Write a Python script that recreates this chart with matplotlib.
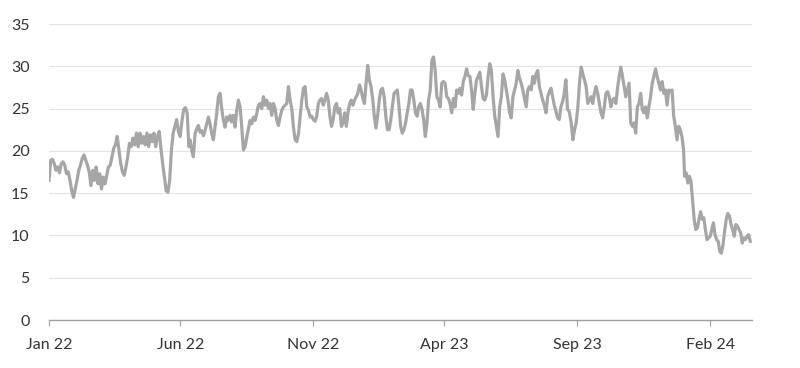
import numpy as np
import pandas as pd
import matplotlib.pyplot as plt
import matplotlib.dates as mdates

plt.rcParams['font.family'] = ['Lato', 'DejaVu Sans']

start = pd.Timestamp('2022-01-01')

# values, segment by segment (day offsets from 1 Jan 2022)
seg1_days = (0, 161)
seg1 = [16.5, 18.9, 19.0, 18.5, 17.7, 18.1, 17.4, 18.5, 18.7, 18.3, 17.3, 17.5, 16.5, 15.3, 14.5,
        15.5, 16.5, 17.7, 18.3, 19.1, 19.5, 18.9, 18.3, 17.5, 15.9, 17.7, 16.5, 18.1, 16.1, 17.3,
        15.5, 16.9, 16.1, 17.1, 18.1, 18.3, 19.3, 20.3, 20.7, 21.7, 20.1, 18.5, 17.5, 17.1, 18.1,
        19.3, 20.9, 20.5, 21.5, 20.7, 22.1, 20.5, 22.1, 20.9, 21.7, 20.7, 22.1, 20.5, 21.9, 21.1,
        22.1, 20.5, 21.7, 22.3, 20.3, 18.5, 16.9, 15.3, 15.1, 16.5, 20.1, 22.1, 22.9, 23.7, 22.3,
        21.7, 23.5, 24.9, 25.1, 24.5, 20.5]
seg2_days = (162.3, 300.5)
seg2 = [21.3, 20.1, 19.3, 22.0, 22.6, 23.0, 22.2, 22.4, 21.8, 22.4, 23.2, 24.0, 23.2, 22.0, 21.3,
        22.8, 24.4, 26.4, 26.8, 25.0, 23.6, 22.8, 24.0, 23.6, 24.2, 23.4, 24.2, 22.8, 24.8, 26.0,
        25.2, 22.8, 20.1, 20.5, 21.6, 22.6, 23.6, 23.2, 24.0, 23.6, 24.4, 25.4, 25.6, 25.0, 26.4,
        25.4, 26.0, 25.0, 25.6, 24.2, 25.6, 25.0, 23.6, 23.0, 24.0, 24.8, 25.2, 25.4, 25.6, 27.6,
        26.0, 25.0, 22.8, 21.3, 21.1, 22.0, 24.0, 26.0, 27.4, 27.6, 25.2, 24.8, 24.0]
seg3_days = (302.4, 450.1)
seg3 = [24.1, 23.7, 23.5, 24.1, 25.6, 26.0, 26.2, 25.4, 26.0, 26.8, 26.0, 24.1, 22.9, 23.7, 25.2,
        25.6, 24.5, 25.0, 22.9, 23.3, 24.5, 22.9, 24.5, 25.6, 26.0, 25.4, 26.0, 26.4, 26.8, 27.8,
        27.2, 26.2, 25.6, 28.0, 30.1, 28.4, 27.6, 26.2, 24.1, 22.7, 24.1, 26.0, 27.2, 27.4, 26.4,
        24.1, 22.5, 22.5, 23.7, 25.2, 26.8, 27.0, 27.2, 25.2, 22.9, 22.1, 22.5, 23.3, 24.5, 25.6,
        27.2, 27.2, 26.0, 24.5, 24.1, 25.2, 25.6, 24.9, 23.7, 21.7, 23.3, 26.0, 27.2, 30.7, 31.1,
        29.5, 26.4, 26.0, 25.2]
seg4_days = (452.0, 598.6)
seg4 = [28.0, 28.2, 28.0, 26.4, 26.2, 25.6, 24.5, 26.2, 25.2, 27.2, 26.8, 27.4, 26.6, 28.2, 28.8,
        29.7, 28.9, 28.8, 27.2, 24.9, 26.8, 28.4, 28.8, 29.3, 27.6, 26.2, 26.0, 26.6, 28.8, 30.3,
        29.5, 26.4, 24.1, 22.9, 21.7, 25.2, 26.4, 29.1, 28.4, 27.2, 26.0, 24.5, 23.9, 26.4, 27.2,
        28.0, 29.5, 28.6, 28.0, 27.2, 26.2, 25.2, 27.2, 27.6, 27.2, 28.8, 28.0, 29.1, 29.5, 27.6,
        26.8, 26.0, 25.4, 24.5, 26.4, 27.0, 27.4, 26.4, 25.4, 24.7, 23.9, 23.7, 25.2, 25.8, 26.8,
        28.4, 24.9, 24.7]
seg5_days = (601.0, 730.3)
seg5 = [23.3, 21.3, 22.5, 23.3, 25.2, 28.0, 29.9, 29.1, 28.4, 27.6, 25.6, 26.0, 26.4, 25.6, 26.8,
        27.6, 26.8, 25.6, 24.5, 23.9, 25.2, 26.8, 27.0, 26.4, 25.2, 26.0, 26.2, 25.6, 27.4, 28.8,
        29.9, 28.8, 27.6, 26.4, 27.2, 28.0, 23.3, 22.9, 23.3, 22.1, 25.2, 25.6, 26.8, 24.9, 24.5,
        25.2, 23.9, 25.2, 26.4, 28.0, 28.8, 29.7, 28.8, 28.0, 27.2, 28.2, 26.8, 27.2, 25.4, 27.2,
        27.0, 27.2, 24.1, 22.9, 21.3, 22.9, 22.5, 21.7, 20.1]
seg6_days = (731.4, 807.0)
seg6 = [17.0, 17.4, 16.2, 17.0, 16.4, 14.2, 11.9, 10.7, 10.9, 11.9, 12.8, 11.9, 12.1, 10.7, 9.5,
        9.7, 9.9, 10.7, 11.5, 10.1, 9.5, 9.3, 8.1, 7.9, 8.9, 10.5, 11.9, 12.6, 12.3, 11.3,
        10.7, 9.9, 11.3, 11.1, 10.7, 10.3, 9.1, 9.7, 9.5, 9.9, 10.1, 9.3]

tick_dates = ['2022-01-01', '2022-06-01', '2022-11-01', '2023-04-01', '2023-09-01', '2024-02-01']

segments = [(seg1_days, seg1), (seg2_days, seg2), (seg3_days, seg3),
            (seg4_days, seg4), (seg5_days, seg5), (seg6_days, seg6)]
days = np.concatenate([np.linspace(d[0], d[1], len(v)) for d, v in segments])
vals = np.concatenate([v for d, v in segments])
dates = start + pd.to_timedelta(days, unit='D')

fig = plt.figure(figsize=(8, 3.68), dpi=100)
ax = fig.add_axes([49/800, 1-320/368, (752-49)/800, (320-24)/368])

ax.plot(dates, vals, color='#a6a6a6', lw=2.3, solid_joinstyle='round', zorder=3)

ax.set_ylim(0, 35)
ax.set_yticks(range(0, 36, 5))
ax.set_xlim(start, start + pd.Timedelta(days=809))
ax.set_xticks(pd.to_datetime(tick_dates))
ax.xaxis.set_major_formatter(mdates.DateFormatter('%b %y'))

ax.grid(axis='y', color='#e3e3e3', lw=0.8, zorder=0)
for s in ['top', 'right', 'left']:
    ax.spines[s].set_visible(False)
ax.spines['bottom'].set_color('#a0a0a0')
ax.spines['bottom'].set_linewidth(1.0)
ax.spines['bottom'].set_zorder(4)

ax.tick_params(axis='y', length=0, pad=14, labelsize=11.5, labelcolor='#333333')
ax.tick_params(axis='x', length=4, width=0.8, color='#a0a0a0', pad=9, labelsize=11.5,
               labelcolor='#333333')

fig.savefig('out.png', dpi=100)
